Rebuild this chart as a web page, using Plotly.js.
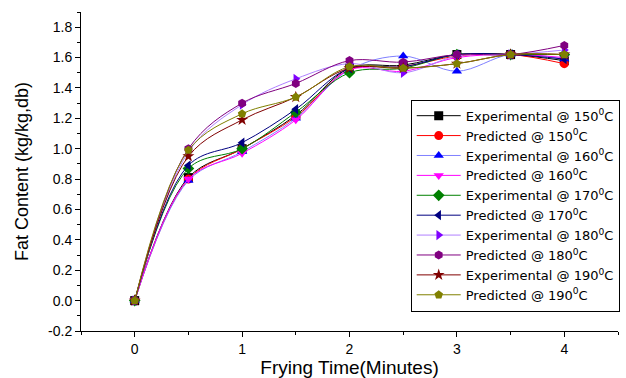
<!DOCTYPE html>
<html>
<head>
<meta charset="utf-8">
<script src="https://cdn.plot.ly/plotly-3.0.1.min.js"></script>
<style>html,body{margin:0;padding:0;background:#fff;overflow:hidden}#chart{width:626px;height:378px}</style>
</head>
<body>
<div id="chart"></div>
<script>
const time = [0, 0.5, 1, 1.5, 2, 2.5, 3, 3.5, 4];

const exp150  = [0, 0.81, 1.00, 1.22, 1.53, 1.55, 1.62, 1.62, 1.58];
const pred150 = [0, 0.80, 1.00, 1.21, 1.52, 1.54, 1.61, 1.62, 1.56];
const exp160  = [0, 0.79, 0.98, 1.20, 1.52, 1.61, 1.51, 1.62, 1.59];
const pred160 = [0, 0.80, 0.97, 1.19, 1.52, 1.51, 1.60, 1.62, 1.60];
const exp170  = [0, 0.87, 1.00, 1.24, 1.50, 1.53, 1.62, 1.62, 1.62];
const pred170 = [0, 0.89, 1.04, 1.26, 1.53, 1.54, 1.62, 1.62, 1.59];
const exp180  = [0, 0.98, 1.29, 1.46, 1.56, 1.50, 1.61, 1.62, 1.65];
const pred180 = [0, 1.00, 1.30, 1.43, 1.58, 1.57, 1.62, 1.62, 1.68];
const exp190  = [0, 0.95, 1.19, 1.34, 1.53, 1.53, 1.56, 1.62, 1.62];
const pred190 = [0, 0.99, 1.23, 1.34, 1.54, 1.53, 1.56, 1.62, 1.62];

const seriesNames = [
  "Experimental @ 150<sup>0</sup>C", "Predicted @ 150<sup>0</sup>C",
  "Experimental @ 160<sup>0</sup>C", "Predicted @ 160<sup>0</sup>C",
  "Experimental @ 170<sup>0</sup>C", "Predicted @ 170<sup>0</sup>C",
  "Experimental @ 180<sup>0</sup>C", "Predicted @ 180<sup>0</sup>C",
  "Experimental @ 190<sup>0</sup>C", "Predicted @ 190<sup>0</sup>C"
];
const seriesValues = [exp150, pred150, exp160, pred160, exp170, pred170, exp180, pred180, exp190, pred190];

const xTickVals = [0, 1, 2, 3, 4];
const yTickVals = [-0.2, 0, 0.2, 0.4, 0.6, 0.8, 1.0, 1.2, 1.4, 1.6, 1.8];
const yTickText = ["-0.2", "0.0", "0.2", "0.4", "0.6", "0.8", "1.0", "1.2", "1.4", "1.6", "1.8"];

const markerColors = ["#000000", "#ff0000", "#0000ff", "#ff00ff", "#008000", "#000080", "#8000ff", "#800080", "#800000", "#808000"];
const lineColors   = ["#000000", "#ff0000", "#8080ff", "#ff00ff", "#008000", "#000080", "#b080ff", "#800080", "#800000", "#808000"];
const symbols = ["square", "circle", "triangle-up", "triangle-down", "diamond", "triangle-left", "triangle-right", "hexagon", "star", "pentagon"];

const traces = seriesValues.map((v, i) => ({
  x: time, y: v, name: seriesNames[i], type: "scatter", mode: "lines+markers",
  line: {color: lineColors[i], width: 1, shape: "spline", smoothing: 1},
  marker: {color: markerColors[i], symbol: symbols[i], size: 9}
}));

const layout = {
  width: 626, height: 378,
  margin: {l: 81, r: 6, t: 12, b: 47},
  paper_bgcolor: "#fff", plot_bgcolor: "#fff",
  font: {family: "Arial, Liberation Sans, sans-serif", color: "#000", size: 15},
  showlegend: true,
  legend: {
    x: 0.614, y: 0.725, xanchor: "left", yanchor: "top",
    bordercolor: "#000", borderwidth: 1, bgcolor: "#fff",
    font: {size: 13, family: "DejaVu Sans, Arial, sans-serif"},
    tracegroupgap: 0, itemwidth: 44
  },
  xaxis: {
    range: [-0.5, 4.5], tickmode: "array", tickvals: xTickVals,
    showgrid: false, zeroline: false, showline: true, linecolor: "#000", linewidth: 1,
    ticks: "outside", ticklen: 5, tickcolor: "#000", tickfont: {size: 14},
    minor: {tickmode: "array", tickvals: [-0.5, 0.5, 1.5, 2.5, 3.5, 4.5], ticks: "outside", ticklen: 3, tickcolor: "#000", showgrid: false},
    title: {text: "Frying Time(Minutes)", font: {size: 19}, standoff: 10}
  },
  yaxis: {
    range: [-0.2, 1.9], tickmode: "array", tickvals: yTickVals, ticktext: yTickText,
    showgrid: false, zeroline: false, showline: true, linecolor: "#000", linewidth: 1,
    ticks: "outside", ticklen: 5, tickcolor: "#000", tickfont: {size: 14},
    minor: {tickmode: "array", tickvals: [-0.1, 0.1, 0.3, 0.5, 0.7, 0.9, 1.1, 1.3, 1.5, 1.7, 1.9], ticks: "outside", ticklen: 3, tickcolor: "#000", showgrid: false},
    title: {text: "Fat Content (kg/kg,db)", font: {size: 18}, standoff: 14}
  }
};

Plotly.newPlot("chart", traces, layout, {displayModeBar: false, staticPlot: true});
</script>
</body>
</html>
